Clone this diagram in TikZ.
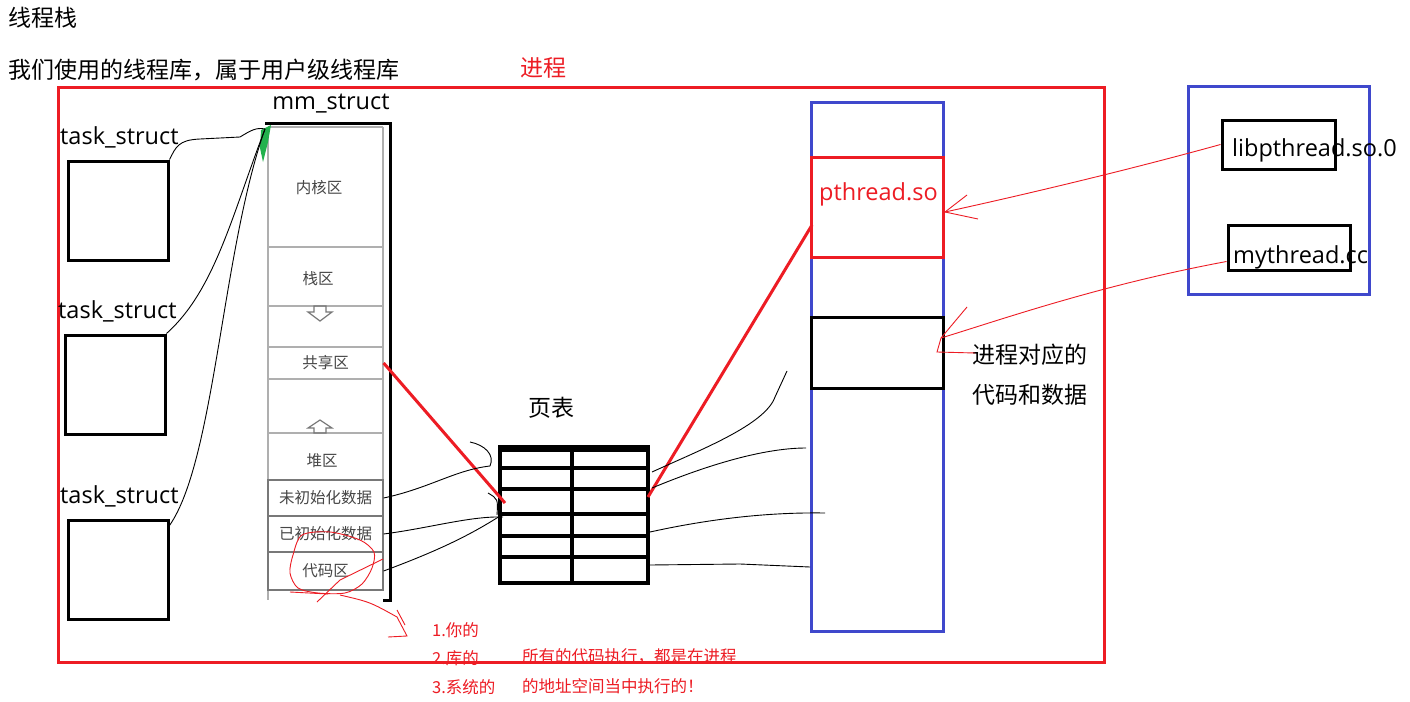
\documentclass[tikz,border=0pt]{standalone}
\usepackage{fontspec}
\setmainfont{Open Sans}
\newfontfamily\cjk{Noto Sans CJK SC}
\usetikzlibrary{arrows.meta,positioning,calc}
\definecolor{ThrRed}{RGB}{237,28,36}
\definecolor{ThrBlue}{RGB}{63,72,204}
\definecolor{ThrGreen}{RGB}{34,177,76}
\definecolor{ThrGray}{RGB}{70,70,70}
\definecolor{ThrLine}{RGB}{175,175,175}
\definecolor{ThrDark}{RGB}{120,120,120}
\tikzset{
  thr/box/.style={draw=black, line width=3, inner sep=0, fill=none},
  thr/redbox/.style={draw=ThrRed, line width=3, inner sep=0},
  thr/bluebox/.style={draw=ThrBlue, line width=3, inner sep=0},
  thr/text/.style={font=\cjk\fontsize{23}{27}\selectfont, inner sep=0, text=black},
  thr/latin/.style={font=\fontsize{23.5}{27}\selectfont, inner sep=0, text=black},
  thr/small/.style={font=\cjk\fontsize{15.5}{18}\selectfont, inner sep=0, text=ThrGray},
  thr/note/.style={font=\cjk\fontsize{16.5}{19}\selectfont, inner sep=0, text=ThrRed, anchor=west},
  thr/cell/.style={draw=ThrLine, line width=1.2, inner sep=0, minimum width=115,
    font=\cjk\fontsize{15.5}{18}\selectfont, text=ThrGray},
  thr/gray/.style={draw=ThrLine, line width=1.2},
  thr/grid/.style={draw=black, line width=4},
  thr/scribble/.style={draw=black, line width=0.9},
  thr/redscribble/.style={draw=ThrRed, line width=0.9},
  thr/redline/.style={draw=ThrRed, line width=3}
}
\begin{document}
\begin{tikzpicture}[x=1pt,y=-1pt]
  \fill[white] (0,0) rectangle (1410,701);
  \useasboundingbox (0,0) rectangle (1410,701);

  \node[thr/text, anchor=west] (title) at (8,18) {线程栈};
  \node[thr/text, anchor=west] (lib) at (8,70) {我们使用的线程库，属于用户级线程库};
  \node[thr/text, text=ThrRed] (proclabel) at (543,68) {进程};
  \node[thr/redbox, minimum width=1046, minimum height=575] (proc) at (581,374.5) {};

  \node[thr/latin, anchor=west] (ts1label) at (60,137) {task\_struct};
  \node[thr/latin, anchor=west] (ts2label) at (58,311) {task\_struct};
  \node[thr/latin, anchor=west] (ts3label) at (60,496) {task\_struct};
  \node[thr/box, minimum width=100, minimum height=99] (ts1) at (118,210.5) {};
  \node[thr/box, minimum width=100, minimum height=99] (ts2) at (115,384.5) {};
  \node[thr/box, minimum width=100, minimum height=99] (ts3) at (118,569.5) {};

  \node[thr/latin] (mmlabel) at (331,104) {mm\_struct};
  \draw[thr/gray] (268,127) -- (383,127) (268,247) -- (383,247) (268,306) -- (383,306)
    (268,433) -- (383,433) (268,127) -- (268,600) (383,127) -- (383,590);
  \node[thr/small] (kern) at (319,188) {内核区};
  \node[thr/small] (stk) at (318,279) {栈区};
  \draw[thr/gray, draw=ThrDark] (314,306) -- (326,306) -- (326,312) -- (332,312) -- (320,321)
    -- (308,312) -- (314,312) -- cycle;
  \node[thr/cell, minimum height=32] (shared) at (325.5,363) {共享区};
  \draw[thr/gray, draw=ThrDark] (320,420) -- (332,428) -- (326,428) -- (326,433) -- (314,433)
    -- (314,428) -- (308,428) -- cycle;
  \node[thr/small] (heap) at (322,461) {堆区};
  \node[thr/cell, draw=ThrDark, minimum height=36] (bss) at (325.5,498) {未初始化数据};
  \node[thr/cell, draw=ThrDark, minimum height=36] (data) at (325.5,534) {已初始化数据};
  \node[thr/cell, draw=ThrDark, minimum height=38] (code) at (325.5,571) {代码区};
  \draw[black, line width=3] (265,123) -- (390,123) -- (390,600) -- (383,600);
  \coordinate (mmtop) at (265,129);
  \fill[ThrGreen] (261,130) -- (271,125) -- (268,142) -- (263,162) -- (260,148) -- cycle;

  \draw[thr/scribble] (ts1.north east) .. controls (176,147) and (178,140) .. (200,139)
    -- (240,137) .. controls (250,131) and (256,127) .. (mmtop);
  \draw[thr/scribble] (ts2.north east) .. controls (215,290) and (232,215) .. (mmtop);
  \draw[thr/scribble] ($(ts3.north east)+(0,7)$) .. controls (215,460) and (222,250) .. (mmtop);

  \node[thr/text] (ptlabel) at (551,408) {页表};
  \node[thr/box, line width=4, minimum width=148, minimum height=136] (pt) at (574,515) {};
  \foreach \y in {468,489,514,536,557}
    \draw[thr/grid] (500,\y) -- (648,\y);
  \draw[thr/grid] (572,447) -- (572,583);
  \fill[black] (500,447) rectangle (648,452);
  \coordinate (ptin) at (505,503);
  \coordinate (ptout) at (648,497);

  \node[thr/bluebox, minimum width=132, minimum height=529] (mem) at (877,366.5) {};
  \node[thr/redbox, minimum width=132, minimum height=100] (so) at (877,207) {};
  \node[thr/latin, text=ThrRed, anchor=west] (sotext) at (819,194) {pthread.so};
  \node[thr/box, minimum width=132, minimum height=71] (mine) at (877,352.5) {};
  \node[thr/text, anchor=west] (minetext1) at (972,355) {进程对应的};
  \node[thr/text, anchor=west] (minetext2) at (972,395) {代码和数据};
  \coordinate (soin) at (812,225);

  \node[thr/bluebox, minimum width=181, minimum height=208] (disk) at (1278.5,190) {};
  \node[thr/box, minimum width=113, minimum height=49] (libso) at (1278.5,144.5) {};
  \node[thr/latin, anchor=west] (libsotext) at (1232,150) {libpthread.so.0};
  \node[thr/box, minimum width=122, minimum height=45] (myt) at (1289,247.5) {};
  \node[thr/latin, anchor=west] (myttext) at (1233,257) {mythread.cc};

  \draw[thr/redline] (shared.east) -- (ptin);
  \draw[thr/redline] (ptout) -- (soin);

  \draw[thr/scribble] (bss.east) .. controls (430,488) and (455,470) .. (490,466)
    .. controls (495,455) and (485,445) .. (470,442);
  \draw[thr/scribble] (data.east) .. controls (430,528) and (470,516) .. (503,517);
  \draw[thr/scribble] (488,493) .. controls (498,499) .. (497,515);
  \draw[thr/scribble] (code.east) .. controls (440,550) and (470,535) .. (500,516);

  \draw[thr/scribble] ($(pt.east)+(2,-43)$) .. controls (700,450) and (765,425) .. (775,397)
    -- (787,371);
  \draw[thr/scribble] ($(pt.east)+(2,-27)$) .. controls (700,468) and (760,448) .. (806,448);
  \draw[thr/scribble] ($(pt.east)+(0,17)$) .. controls (700,521) and (760,512) .. (825,513);
  \draw[thr/scribble] ($(pt.east)+(0,50)$) -- (740,564) -- (810,567);

  \coordinate (sotip) at (945,212);
  \draw[thr/redscribble] (libso.west) .. controls (1110,175) and (1000,200) .. (sotip);
  \draw[thr/redscribble] (sotip) -- (967,195) (sotip) -- (978,219);
  \coordinate (minetip) at (941,338);
  \draw[thr/redscribble] ($(myt.west)+(0,14)$) .. controls (1100,285) and (1000,320) .. (minetip);
  \draw[thr/redscribble] (minetip) -- (967,307) (minetip) -- (937,352) -- (975,353);

  \draw[thr/redscribble] plot[smooth cycle] coordinates {(302,535) (330,532) (360,540)
    (374,552) (372,568) (362,584) (345,593) (318,593) (298,588) (290,573) (293,555)};
  \draw[thr/redscribble] (317,602) -- (340,580) -- (383,559);
  \draw[thr/redscribble] (290,592) -- (328,594);
  \draw[thr/redscribble] (340,595) .. controls (370,602) .. (397,617) -- (407,636) -- (388,637);
  \draw[thr/redscribble] (397,610) -- (405,625);

  \node[thr/note] (n1) at (432,630) {1.你的};
  \node[thr/note] (n2) at (432,658) {2.库的};
  \node[thr/note] (n3) at (432,687) {3.系统的};
  \node[thr/note] (n4) at (522,656) {所有的代码执行，都是在进程};
  \node[thr/note] (n5) at (522,686) {的地址空间当中执行的！};
\end{tikzpicture}
\end{document}
